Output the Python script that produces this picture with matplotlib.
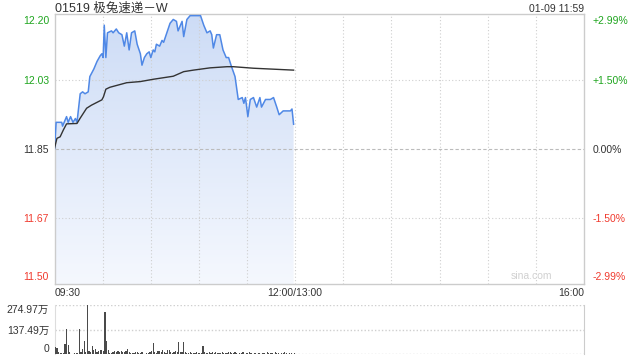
import numpy as np
import matplotlib
matplotlib.use("Agg")
import matplotlib.pyplot as plt
from matplotlib.patches import Polygon

plt.rcParams['font.family'] = ['Liberation Sans', 'Noto Sans CJK SC', 'DejaVu Sans']

###################################
# data
###################################
title = "01519 极兔速递－W"
stamp = "01-09 11:59"
prev_close = 11.85

# minutes after 09:30 (lunch break collapsed, 12:00 == 13:00 == 150)
price_min = [0, 1, 4.5, 5, 7.5, 8.5, 10, 11.5, 13, 14, 16, 17.5, 19, 21, 22, 24.5,
             26.5, 28.5, 29.5, 30.3, 31, 32, 33, 35.5, 36.5, 38.5, 40, 42, 43.5, 45,
             46.5, 48, 50, 51.5, 53.5, 54.5, 56, 57.5, 59, 60, 61.5, 62.5, 63.5, 65.5,
             67, 68, 70, 72, 74, 76, 77, 79.5, 80.5, 82.5, 84.5, 91, 93, 95, 97, 98,
             99, 101, 103, 105, 107, 108.5, 110, 112.5, 114.5, 117, 118, 119, 120.5,
             122, 124, 126, 128, 129, 131.5, 134.5, 136.5, 138.5, 140, 142.5, 147,
             148, 149]
price = [11.85, 11.92, 11.92, 11.91, 11.935, 11.92, 11.935, 11.92, 11.93, 11.92, 11.995,
         12.00, 11.995, 12.00, 12.04, 12.06, 12.08, 12.095, 12.10, 12.09, 12.175, 12.09,
         12.155, 12.16, 12.155, 12.165, 12.155, 12.15, 12.12, 12.155, 12.11, 12.155,
         12.16, 12.125, 12.10, 12.07, 12.09, 12.10, 12.105, 12.09, 12.11, 12.105, 12.125,
         12.12, 12.135, 12.13, 12.155, 12.18, 12.19, 12.185, 12.16, 12.185, 12.145,
         12.19, 12.20, 12.20, 12.175, 12.155, 12.16, 12.15, 12.115, 12.15, 12.15, 12.11,
         12.09, 12.09, 12.07, 12.04, 11.98, 11.985, 11.97, 11.985, 11.935, 11.98, 11.985,
         11.96, 11.985, 11.96, 11.98, 11.98, 11.985, 11.96, 11.94, 11.95, 11.95, 11.955,
         11.915]

avg_min = [0, 1.5, 3.5, 5.5, 7.5, 14, 16, 20, 23, 29.5, 30.5, 32, 34.5, 45, 53.5, 61.5,
           74, 80.5, 86.5, 97, 107.5, 111.5, 124, 149]
avg_price = [11.852, 11.878, 11.882, 11.90, 11.916, 11.917, 11.931, 11.957, 11.965,
             11.979, 11.987, 12.007, 12.012, 12.024, 12.027, 12.033, 12.041, 12.053,
             12.057, 12.063, 12.066, 12.066, 12.062, 12.057]

# volume per minute, in 万 shares
volume = [43, 34, 12, 6, 5, 8, 58, 140, 50, 10, 3, 4, 6, 5, 8, 140, 10, 30, 76, 12,
          275, 18, 15, 48, 22, 30, 12, 20, 25, 26, 20, 234, 72, 22, 8, 5, 10, 18, 14, 16,
          12, 20, 14, 10, 16, 28, 10, 8, 6, 8, 10, 14, 8, 6, 12, 4, 3, 6, 8, 10,
          16, 60, 14, 8, 20, 16, 14, 22, 10, 6, 24, 22, 12, 8, 10, 18, 10, 70, 12, 10,
          66, 14, 8, 6, 10, 8, 6, 8, 10, 6, 8, 6, 48, 10, 8, 6, 12, 8, 10, 6,
          12, 8, 6, 8, 10, 6, 8, 6, 12, 10, 6, 8, 10, 6, 4, 8, 6, 10, 4, 6,
          8, 10, 6, 4, 8, 6, 4, 6, 4, 8, 6, 4, 10, 6, 8, 6, 4, 10, 6, 8,
          4, 6, 8, 10, 6, 4, 6, 8, 4, 6]

price_ticks = [11.50, 11.67, 11.85, 12.03, 12.20]
pct_labels = ["-2.99%", "-1.50%", "0.00%", "+1.50%", "+2.99%"]
vol_ticks = [0, 137.49, 274.97]
vol_labels = ["0", "137.49万", "274.97万"]

green = "#1fa51f"
red = "#f03a2e"
grid_c = "#cfcfcf"
text_c = "#333333"

ylo = prev_close * (1 - 0.0299)
yhi = prev_close * (1 + 0.0299)

fig = plt.figure(figsize=(6.4, 3.6), dpi=100)
ax = fig.add_axes([0.0852, 0.2111, 0.8273, 0.75])
axv = fig.add_axes([0.0852, 0.0160, 0.8273, 0.1368])

# ---------------- price panel ----------------
ax.set_xlim(0, 330)
ax.set_ylim(ylo, yhi)

# gradient fill under the price line
grad = np.linspace(0, 1, 256).reshape(-1, 1)
cmap = matplotlib.colors.LinearSegmentedColormap.from_list("g", ["#f5f8fe", "#cddcf6"])
img = ax.imshow(grad, extent=[0, 330, ylo, yhi], origin="lower", aspect="auto",
                cmap=cmap, zorder=1)
poly_pts = list(zip(price_min, price)) + [(price_min[-1], ylo), (price_min[0], ylo)]
clip = Polygon(poly_pts, closed=True, facecolor="none", edgecolor="none")
ax.add_patch(clip)
img.set_clip_path(clip)

ax.plot(price_min, price, color="#4f88e6", lw=1.1, zorder=3)
ax.plot(avg_min, avg_price, color="#333333", lw=1.0, zorder=3)

for x in range(30, 330, 30):
    ax.axvline(x, color=grid_c, lw=0.8, ls=(0, (1, 2)), zorder=2)
for y in [price_ticks[1], price_ticks[3]]:
    ax.axhline(y, color=grid_c, lw=0.8, ls=(0, (1, 2)), zorder=2)
ax.axhline(prev_close, color="#bbbbbb", lw=0.8, ls=(0, (3, 2)), zorder=2)

for s in ax.spines.values():
    s.set_color("#cccccc")
    s.set_linewidth(1.0)

ax.set_yticks(price_ticks)
ax.set_yticklabels(["%.2f" % v for v in price_ticks], fontsize=7.5)
ax.tick_params(axis="y", length=0, pad=4)
ycols = [red, red, text_c, green, green]
for lab, c in zip(ax.get_yticklabels(), ycols):
    lab.set_color(c)
ax.get_yticklabels()[0].set_va("bottom")
ax.get_yticklabels()[-1].set_va("top")

axr = ax.twinx()
axr.set_ylim(ylo, yhi)
axr.set_yticks(price_ticks)
axr.set_yticklabels(pct_labels, fontsize=7.5)
axr.tick_params(axis="y", length=0, pad=6)
for lab, c in zip(axr.get_yticklabels(), ycols):
    lab.set_color(c)
axr.get_yticklabels()[0].set_va("bottom")
axr.get_yticklabels()[-1].set_va("top")
for s in axr.spines.values():
    s.set_visible(False)

ax.set_xticks([0, 150, 330])
ax.set_xticklabels(["09:30", "12:00/13:00", "16:00"], fontsize=7.5, color=text_c)
ax.tick_params(axis="x", length=0, pad=3)
ax.get_xticklabels()[0].set_ha("left")
ax.get_xticklabels()[-1].set_ha("right")

ax.text(0.9, 0.01, "sina.com", transform=ax.transAxes, ha="center", va="bottom",
        fontsize=7.5, color="#d0d0d0", zorder=4)

fig.text(0.086, 0.976, title, fontsize=9, color=text_c, va="center", ha="left")
fig.text(0.9125, 0.976, stamp, fontsize=7.5, color=text_c, va="center", ha="right")

# ---------------- volume panel ----------------
axv.bar(np.arange(len(volume)) + 0.5, volume, width=0.75, color="#4a4a4a", zorder=3)
axv.set_xlim(0, 330)
axv.set_ylim(0, vol_ticks[-1])
axv.set_xticks([])
axv.set_yticks(vol_ticks)
axv.set_yticklabels(vol_labels, fontsize=7.5, color=text_c)
axv.tick_params(axis="y", length=0, pad=4)
axv.get_yticklabels()[0].set_va("bottom")
axv.get_yticklabels()[-1].set_va("top")
for y in vol_ticks:
    axv.axhline(y, color=grid_c, lw=1.0, ls=(0, (1, 1.5)), zorder=2)
axv.spines["top"].set_visible(False)
axv.spines["bottom"].set_visible(False)
axv.spines["left"].set_color("#dddddd")
axv.spines["right"].set_color("#cccccc")

fig.savefig("out.png", dpi=100)
